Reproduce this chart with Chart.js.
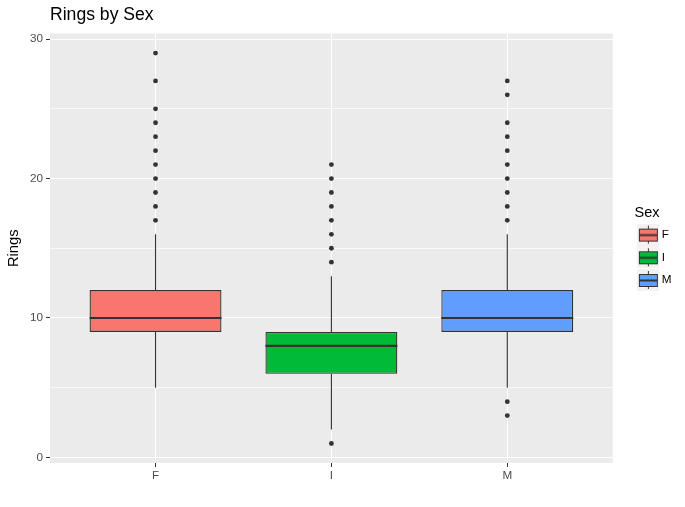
<!DOCTYPE html>
<html>
<head>
<meta charset="utf-8">
<title>Rings by Sex</title>
<script src="https://cdn.jsdelivr.net/npm/chart.js@4.4.1/dist/chart.umd.min.js"></script>
<style>
  html, body { margin: 0; padding: 0; background: #fff; }
  #wrap { width: 685px; height: 507px; }
</style>
</head>
<body>
<div id="wrap"><canvas id="chart"></canvas></div>
<script>
// Box statistics per sex
const sexes = ['F', 'I', 'M'];
const boxColors = ['#F8766D', '#00BA38', '#619CFF'];
const whiskerLow = [5, 2, 5];
const q1 = [9, 6, 9];
const medians = [10, 8, 10];
const q3 = [12, 9, 12];
const whiskerHigh = [16, 13, 16];
const outliersF = [17, 18, 19, 20, 21, 22, 23, 24, 25, 27, 29];
const outliersI = [1, 14, 15, 16, 17, 18, 19, 20, 21];
const outliersM = [3, 4, 17, 18, 19, 20, 21, 22, 23, 24, 26, 27];
const yTicks = [0, 5, 10, 15, 20, 25, 30];

const FONT = "'Liberation Sans', Arial, sans-serif";
const INK = '#333333';

// ggplot-style legend key: grey square, whisker, box, median
function makeKey(color) {
  const c = document.createElement('canvas');
  c.width = 38;
  c.height = 22;
  const g = c.getContext('2d');
  g.fillStyle = '#F2F2F2';
  g.fillRect(16, 0, 22, 22);
  g.strokeStyle = INK;
  g.lineWidth = 1;
  g.beginPath();
  g.moveTo(27.5, 2);
  g.lineTo(27.5, 20);
  g.stroke();
  g.fillStyle = color;
  g.fillRect(18.5, 5.5, 18, 12);
  g.strokeRect(18.5, 5.5, 18, 12);
  g.lineWidth = 2;
  g.beginPath();
  g.moveTo(18.5, 11.5);
  g.lineTo(36.5, 11.5);
  g.stroke();
  return c;
}
const keyImages = boxColors.map(makeKey);

const boxData = sexes.map((s, i) => ({ x: i + 1, y: [q1[i], q3[i]] }));
const outlierData = [outliersF, outliersI, outliersM]
  .flatMap((list, i) => list.map(v => ({ x: i + 1, y: v })));

const boxplotParts = {
  id: 'boxplotParts',
  beforeDraw(chart) {
    const { ctx, chartArea: a } = chart;
    ctx.save();
    ctx.fillStyle = '#EBEBEB';
    ctx.fillRect(a.left, a.top, a.right - a.left, a.bottom - a.top);
    ctx.restore();
  },
  beforeDatasetsDraw(chart) {
    const { ctx, scales: { x, y } } = chart;
    ctx.save();
    ctx.strokeStyle = INK;
    ctx.lineWidth = 1.1;
    sexes.forEach((s, i) => {
      const px = x.getPixelForValue(i + 1);
      ctx.beginPath();
      ctx.moveTo(px, y.getPixelForValue(whiskerLow[i]));
      ctx.lineTo(px, y.getPixelForValue(q1[i]));
      ctx.moveTo(px, y.getPixelForValue(q3[i]));
      ctx.lineTo(px, y.getPixelForValue(whiskerHigh[i]));
      ctx.stroke();
    });
    ctx.restore();
  },
  afterDatasetsDraw(chart) {
    const { ctx, scales: { x, y } } = chart;
    const bars = chart.getDatasetMeta(0).data;
    ctx.save();
    ctx.strokeStyle = INK;
    ctx.lineWidth = 2.2;
    sexes.forEach((s, i) => {
      const px = x.getPixelForValue(i + 1);
      const hw = bars[i].width / 2;
      const py = y.getPixelForValue(medians[i]);
      ctx.beginPath();
      ctx.moveTo(px - hw, py);
      ctx.lineTo(px + hw, py);
      ctx.stroke();
    });
    ctx.restore();
  }
};

new Chart(document.getElementById('chart'), {
  type: 'bar',
  data: {
    datasets: [
      {
        type: 'bar',
        label: 'box',
        data: boxData,
        backgroundColor: boxColors,
        borderColor: INK,
        borderWidth: 1.3,
        borderSkipped: false,
        barPercentage: 0.75,
        categoryPercentage: 1
      },
      {
        type: 'scatter',
        label: 'outliers',
        data: outlierData,
        backgroundColor: INK,
        borderWidth: 0,
        pointRadius: 2.4,
        pointHoverRadius: 2.4
      }
    ]
  },
  options: {
    responsive: true,
    maintainAspectRatio: false,
    animation: false,
    events: [],
    layout: { padding: { right: 3.6, bottom: 4 } },
    scales: {
      x: {
        type: 'linear',
        min: 0.4,
        max: 3.6,
        offset: false,
        afterBuildTicks: s => { s.ticks = sexes.map((v, i) => ({ value: i + 1 })); },
        afterFit: s => { s.height = 40; },
        ticks: {
          callback: v => sexes[v - 1],
          color: '#4D4D4D',
          font: { family: FONT, size: 11.7 },
          padding: 2,
          maxRotation: 0
        },
        grid: { offset: false, color: '#FFFFFF', lineWidth: 1, tickLength: 4, tickColor: INK },
        border: { display: false }
      },
      y: {
        type: 'linear',
        min: -0.4,
        max: 30.4,
        afterBuildTicks: s => { s.ticks = yTicks.map(v => ({ value: v })); },
        afterFit: s => { s.width = 50; },
        ticks: {
          callback: v => (v % 10 === 0 ? v : ''),
          color: '#4D4D4D',
          font: { family: FONT, size: 11.7 },
          padding: 3
        },
        grid: {
          color: c => (c.tick && c.tick.value % 10 === 0 ? '#FFFFFF' : 'rgba(255,255,255,0.75)'),
          lineWidth: 1,
          tickLength: 4,
          tickColor: c => (c.tick && c.tick.value % 10 === 0 ? INK : 'rgba(0,0,0,0)')
        },
        border: { display: false },
        title: {
          display: true,
          text: 'Rings',
          color: '#000000',
          font: { family: FONT, size: 14.7 },
          padding: { top: 5, bottom: 0 }
        }
      }
    },
    plugins: {
      title: {
        display: true,
        text: 'Rings by Sex',
        align: 'start',
        fullSize: false,
        color: '#000000',
        font: { family: FONT, size: 17.6, weight: 'normal' },
        padding: { top: 5, bottom: 7.4 }
      },
      legend: {
        position: 'right',
        align: 'center',
        title: {
          display: true,
          text: 'Sex',
          position: 'center',
          color: '#000000',
          font: { family: FONT, size: 14.5, lineHeight: 0.8 },
          padding: 0
        },
        labels: {
          usePointStyle: true,
          pointStyleWidth: 32,
          padding: 11,
          color: '#000000',
          font: { family: FONT, size: 11.7 },
          generateLabels: () => sexes.map((s, i) => ({
            text: s,
            pointStyle: keyImages[i],
            fillStyle: boxColors[i],
            strokeStyle: INK,
            lineWidth: 0,
            hidden: false,
            datasetIndex: 0
          }))
        }
      },
      tooltip: { enabled: false }
    }
  },
  plugins: [boxplotParts]
});
</script>
</body>
</html>
